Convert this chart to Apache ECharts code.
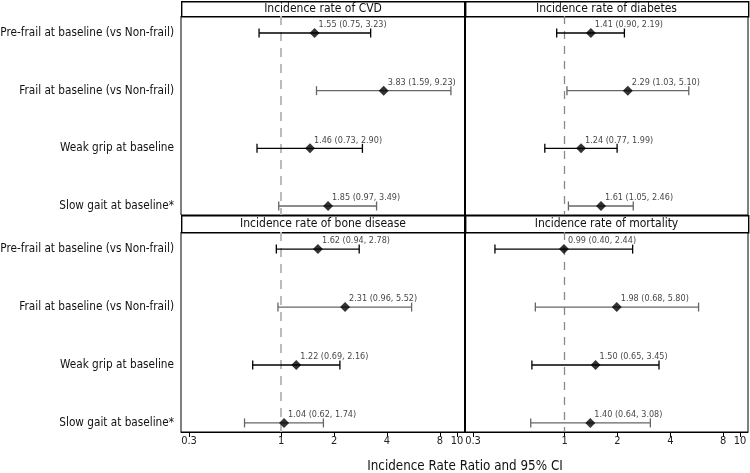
<!DOCTYPE html>
<html>
	<head>
		<meta charset="utf-8" />
		<script src="https://cdn.jsdelivr.net/npm/echarts@6/dist/echarts.min.js"></script>
		<title>Forest plot</title>
		<style>
			* { margin: 0; padding: 0; }
			body { background: #fff; }
			#chart { width: 750px; height: 473px; }
		</style>
	</head>
	<body>
		<div id="chart"></div>
		<script>
			var rowLabels = [
				'Pre-frail at baseline (vs Non-frail)',
				'Frail at baseline (vs Non-frail)',
				'Weak grip at baseline',
				'Slow gait at baseline*'
			];
			var rowIndex = [1, 2, 3, 4];
			var xTicks = [0.3, 1, 2, 4, 8, 10];

			var cvdEst = [1.55, 3.83, 1.46, 1.85];
			var cvdLo  = [0.75, 1.59, 0.73, 0.97];
			var cvdHi  = [3.23, 9.23, 2.90, 3.49];

			var diabEst = [1.41, 2.29, 1.24, 1.61];
			var diabLo  = [0.90, 1.03, 0.77, 1.05];
			var diabHi  = [2.19, 5.10, 1.99, 2.46];

			var boneEst = [1.62, 2.31, 1.22, 1.04];
			var boneLo  = [0.94, 0.96, 0.69, 0.62];
			var boneHi  = [2.78, 5.52, 2.16, 1.74];

			var mortEst = [0.99, 1.98, 1.50, 1.40];
			var mortLo  = [0.40, 0.68, 0.65, 0.64];
			var mortHi  = [2.44, 5.80, 3.45, 3.08];

			var panelTitles = ['Incidence rate of CVD', 'Incidence rate of diabetes', 'Incidence rate of bone disease', 'Incidence rate of mortality'];

			var panels = [
				{ est: cvdEst, lo: cvdLo, hi: cvdHi },
				{ est: diabEst, lo: diabLo, hi: diabHi },
				{ est: boneEst, lo: boneLo, hi: boneHi },
				{ est: mortEst, lo: mortLo, hi: mortHi }
			];

			// layout
			var lefts = [181, 465], widths = [284, 283];
			var tops = [16, 232], heights = [199, 200];
			var headTops = [1, 215];
			var font = '"DejaVu Sans Condensed", "DejaVu Sans"';
			var rowColors = ['#000', '#666', '#000', '#666'];
			var refLine = [
				{ type: [9, 7], color: '#bbb', width: 2 },
				{ type: [8, 7], color: '#888', width: 1.3 }
			];

			var chart = echarts.init(document.getElementById('chart'));
			var grids = [], xAxes = [], yAxes = [], series = [], graphics = [];

			panels.forEach(function (p, i) {
				var col = i % 2, row = Math.floor(i / 2);
				var bottom = row === 1;
				grids.push({
					left: lefts[col], top: tops[row], width: widths[col], height: heights[row],
					outerBoundsMode: 'none', containLabel: false,
					show: true, borderColor: '#000', borderWidth: 1, backgroundColor: '#fff'
				});
				xAxes.push({
					gridIndex: i, type: 'log', logBase: 10, min: 0.27, max: 11.1,
					splitLine: { show: false },
					axisLine: { show: bottom, lineStyle: { color: '#000' } },
					axisTick: { show: bottom, length: 5, customValues: xTicks, lineStyle: { color: '#000' } },
					axisLabel: {
						show: bottom, customValues: xTicks, margin: 4,
						fontFamily: font, fontSize: 11, color: '#222',
						formatter: function (v) { return String(+(+v).toFixed(1)); }
					}
				});
				yAxes.push({
					gridIndex: i, type: 'value', inverse: true, min: 0.705, max: 4.156,
					splitLine: { show: false },
					axisLine: { show: false }, axisTick: { show: false },
					axisLabel: {
						show: col === 0, customValues: rowIndex, margin: 7,
						fontFamily: font, fontSize: 11.7, color: '#111',
						formatter: function (v) { return rowLabels[Math.round(v) - 1]; }
					}
				});

				var bars = rowIndex.map(function (r, k) { return [p.lo[k], p.hi[k], r]; });
				series.push({
					type: 'custom', xAxisIndex: i, yAxisIndex: i, z: 2,
					data: bars,
					encode: { x: [0, 1], y: 2 },
					renderItem: function (params, api) {
						var y = api.value(2);
						var a = api.coord([api.value(0), y]);
						var b = api.coord([api.value(1), y]);
						var st = { stroke: rowColors[params.dataIndex], lineWidth: 1.3 };
						return {
							type: 'group',
							children: [
								{ type: 'line', shape: { x1: a[0], y1: a[1], x2: b[0], y2: b[1] }, style: st },
								{ type: 'line', shape: { x1: a[0], y1: a[1] - 4.5, x2: a[0], y2: a[1] + 4.5 }, style: st },
								{ type: 'line', shape: { x1: b[0], y1: b[1] - 4.5, x2: b[0], y2: b[1] + 4.5 }, style: st }
							]
						};
					},
					markLine: {
						silent: true, symbol: 'none', z: 1,
						label: { show: false },
						lineStyle: refLine[col],
						data: [{ xAxis: 1 }]
					}
				});
				series.push({
					type: 'scatter', xAxisIndex: i, yAxisIndex: i, z: 4,
					symbol: 'diamond', symbolSize: 10,
					itemStyle: { color: '#000' },
					data: rowIndex.map(function (r, k) { return [p.est[k], r, p.lo[k], p.hi[k]]; }),
					label: {
						show: true, position: 'right', distance: 0, offset: [-1, -8],
						fontFamily: font, fontSize: 9, color: '#111',
						formatter: function (d) {
							var v = d.value;
							return v[0].toFixed(2) + ' (' + v[2].toFixed(2) + ', ' + v[3].toFixed(2) + ')';
						}
					}
				});

				// panel header
				graphics.push({
					type: 'rect', left: lefts[col], top: headTops[row],
					shape: { width: widths[col], height: tops[row] - headTops[row] },
					style: { fill: '#fff', stroke: '#000', lineWidth: 1.4 }
				});
				graphics.push({
					type: 'text', x: lefts[col] + widths[col] / 2, y: (headTops[row] + tops[row]) / 2 + 0.5,
					style: {
						text: panelTitles[i], fontFamily: font, fontSize: 12, fill: '#111',
						textAlign: 'center', textVerticalAlign: 'middle'
					}
				});
			});

			// divider between left and right columns
			graphics.push({
				type: 'line', shape: { x1: 465, y1: 1, x2: 465, y2: 432 },
				style: { stroke: '#000', lineWidth: 2 }, z: 10
			});
			graphics.push({
				type: 'text', x: 465, y: 467,
				style: {
					text: 'Incidence Rate Ratio and 95% CI', fontFamily: font, fontSize: 13.3, fill: '#111',
					textAlign: 'center', textVerticalAlign: 'middle'
				}
			});

			chart.setOption({
				animation: false,
				grid: grids,
				xAxis: xAxes,
				yAxis: yAxes,
				series: series,
				graphic: graphics
			});
		</script>
	</body>
</html>
